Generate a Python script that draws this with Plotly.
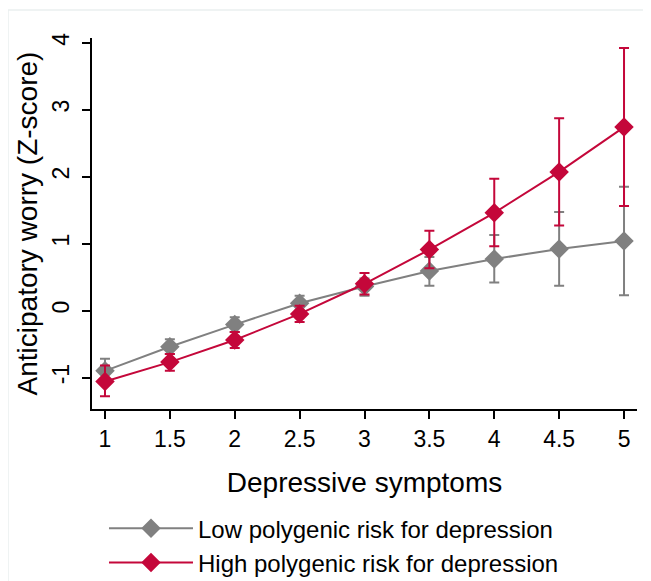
import plotly.graph_objects as go

x_vals = [1, 1.5, 2, 2.5, 3, 3.5, 4, 4.5, 5]
low_mean = [-0.90, -0.54, -0.21, 0.11, 0.36, 0.59, 0.77, 0.92, 1.04]
low_upper = [-0.72, -0.43, -0.10, 0.22, 0.48, 0.80, 1.13, 1.47, 1.85]
low_lower = [-1.08, -0.65, -0.32, 0.00, 0.22, 0.37, 0.42, 0.37, 0.23]
high_mean = [-1.06, -0.77, -0.44, -0.05, 0.40, 0.91, 1.46, 2.07, 2.74]
high_upper = [-0.82, -0.65, -0.32, 0.07, 0.56, 1.19, 1.97, 2.87, 3.92]
high_lower = [-1.28, -0.90, -0.56, -0.17, 0.24, 0.63, 0.96, 1.27, 1.56]

x_ticks = [1, 1.5, 2, 2.5, 3, 3.5, 4, 4.5, 5]
x_tick_text = ["1", "1.5", "2", "2.5", "3", "3.5", "4", "4.5", "5"]
y_ticks = [-1, 0, 1, 2, 3, 4]
y_tick_text = ["-1", "0", "1", "2", "3", "4"]

GRAY = "#808080"
RED = "#c4073a"
FONT = "Liberation Sans, Arial, sans-serif"

def err(mean, up, lo):
    return dict(type="data", symmetric=False,
                array=[u - m for u, m in zip(up, mean)],
                arrayminus=[m - l for m, l in zip(mean, lo)],
                thickness=2, width=5)

fig = go.Figure()
fig.add_trace(go.Scatter(
    x=x_vals, y=low_mean, mode="lines+markers",
    name="Low polygenic risk for depression",
    line=dict(color=GRAY, width=2),
    marker=dict(symbol="diamond", size=15, color=GRAY),
    error_y=dict(color=GRAY, **err(low_mean, low_upper, low_lower)),
))
fig.add_trace(go.Scatter(
    x=x_vals, y=high_mean, mode="lines+markers",
    name="High polygenic risk for depression",
    line=dict(color=RED, width=2),
    marker=dict(symbol="diamond", size=15, color=RED),
    error_y=dict(color=RED, **err(high_mean, high_upper, high_lower)),
))

PW, PH = 545, 371
fig.update_layout(
    width=643, height=573,
    margin=dict(l=84, r=14, t=30, b=172, autoexpand=False),
    paper_bgcolor="white", plot_bgcolor="white",
    font=dict(family=FONT, color="black"),
    showlegend=True,
    legend=dict(x=0.022, y=-0.262, xanchor="left", yanchor="top",
                font=dict(size=24, family=FONT), bgcolor="rgba(0,0,0,0)",
                tracegroupgap=0, itemwidth=84),
    shapes=[dict(type="rect", xref="paper", yref="paper",
                 x0=-84 / PW, x1=1.2, y0=-0.6, y1=1 + 28 / PH,
                 line=dict(color="#eaf0f0", width=1.5), layer="below")],
)
fig.update_xaxes(
    range=[0.9, 5.1], tickvals=x_ticks, ticktext=x_tick_text,
    showline=True, linecolor="black", linewidth=2, mirror=False,
    ticks="outside", ticklen=8, tickwidth=2, tickcolor="black",
    tickfont=dict(size=23), showgrid=False, zeroline=False,
    title=dict(text="Depressive symptoms", font=dict(size=28), standoff=22),
)
fig.update_yaxes(
    range=[-1.47, 4.07], tickvals=y_ticks, ticktext=y_tick_text,
    showline=True, linecolor="black", linewidth=2, mirror=False,
    ticks="outside", ticklen=8, tickwidth=2, tickcolor="black",
    tickangle=-90, tickfont=dict(size=23), ticklabelstandoff=4,
    showgrid=False, zeroline=False,
    title=dict(text="Anticipatory worry (Z-score)", font=dict(size=28), standoff=2),
)

fig.write_html("out.html")
